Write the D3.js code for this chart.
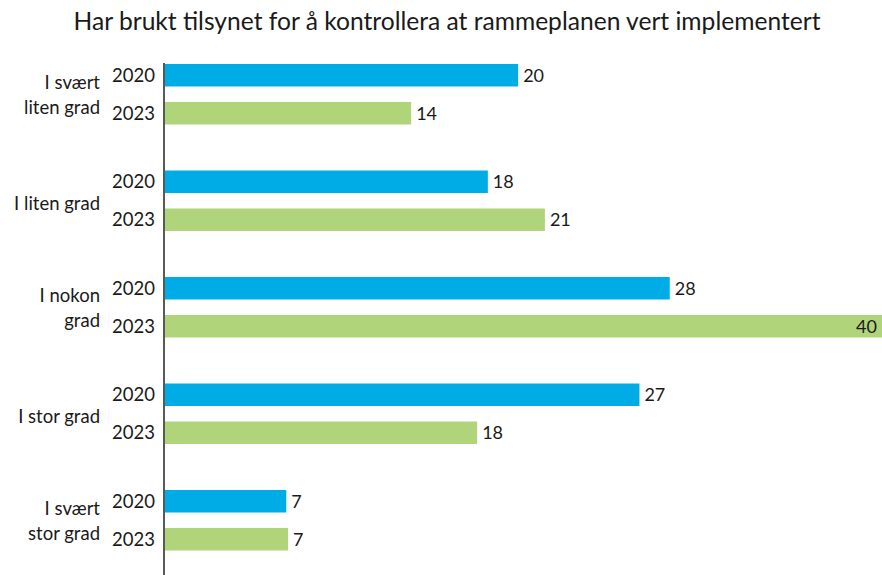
<!DOCTYPE html>
<html>
<head>
<meta charset="utf-8">
<script src="https://cdn.jsdelivr.net/npm/d3@7"></script>
<style>
  body { margin: 0; background: #fff; }
  text { font-family: Lato, "Open Sans", sans-serif; fill: #1a1a1a; }
</style>
</head>
<body>
<div id="chart"></div>
<script>
'use strict';

// data
const title = 'Har brukt tilsynet for å kontrollera at rammeplanen vert implementert';
const categories = ['I svært liten grad', 'I liten grad', 'I nokon grad', 'I stor grad', 'I svært stor grad'];
const categoryLines = [['I svært', 'liten grad'], ['I liten grad'], ['I nokon', 'grad'], ['I stor grad'], ['I svært', 'stor grad']];
const years = ['2020', '2023'];
const values2020 = [19.8, 18.1, 28.3, 26.6, 6.8];
const values2023 = [13.8, 21.3, 40.2, 17.5, 6.9];
const colors = ['#00ace6', '#b0d47a'];

const width = 882, height = 575;

const svg = d3.select('#chart').append('svg')
  .attr('width', width)
  .attr('height', height);

// title
svg.append('text')
  .attr('x', 447)
  .attr('y', 30)
  .attr('text-anchor', 'middle')
  .style('font-size', '24.6px')
  .text(title);

const x0 = 165;
const xScale = d3.scaleLinear()
  .domain([0, 40.2])
  .range([x0, 882]);

const yScale = d3.scaleBand()
  .domain(categories)
  .range([64, 550.5])
  .paddingInner(0.432)
  .paddingOuter(0);

const yInner = d3.scaleBand()
  .domain(years)
  .range([0, yScale.bandwidth()])
  .paddingInner(0.408);

const rows = [];
categories.forEach((c, i) => {
  rows.push({ cat: c, year: '2020', v: values2020[i], ci: 0 });
  rows.push({ cat: c, year: '2023', v: values2023[i], ci: 1 });
});

// bars
svg.append('g').selectAll('rect')
  .data(rows)
  .enter().append('rect')
  .attr('x', x0)
  .attr('y', d => yScale(d.cat) + yInner(d.year))
  .attr('width', d => xScale(d.v) - x0)
  .attr('height', yInner.bandwidth())
  .attr('fill', d => colors[d.ci]);

// value labels
const fmt = d3.format('.0f');
svg.append('g').selectAll('text')
  .data(rows)
  .enter().append('text')
  .attr('x', d => xScale(d.v) > 840 ? xScale(d.v) - 5 : xScale(d.v) + 5)
  .attr('y', d => yScale(d.cat) + yInner(d.year) + yInner.bandwidth() / 2)
  .attr('dy', '0.36em')
  .attr('text-anchor', d => xScale(d.v) > 840 ? 'end' : 'start')
  .style('font-size', '18px')
  .text(d => fmt(d.v));

// year labels
svg.append('g').selectAll('text')
  .data(rows)
  .enter().append('text')
  .attr('x', 155)
  .attr('y', d => yScale(d.cat) + yInner(d.year) + yInner.bandwidth() / 2)
  .attr('dy', '0.36em')
  .attr('text-anchor', 'end')
  .style('font-size', '18.5px')
  .text(d => d.year);

// category labels
const catG = svg.append('g').selectAll('text')
  .data(categories)
  .enter().append('text')
  .attr('text-anchor', 'end')
  .style('font-size', '18.5px')
  .attr('y', d => yScale(d) + yScale.bandwidth() / 2);

catG.each(function (d, i) {
  const lines = categoryLines[i];
  const t = d3.select(this);
  lines.forEach((l, j) => {
    t.append('tspan')
      .attr('x', 100)
      .attr('dy', j === 0 ? (lines.length > 1 ? -5 : 9) : 25)
      .text(l);
  });
});

// axis line
svg.append('line')
  .attr('x1', 164).attr('x2', 164)
  .attr('y1', 63).attr('y2', height)
  .attr('stroke', '#222')
  .attr('stroke-width', 1.5);
</script>
</body>
</html>
